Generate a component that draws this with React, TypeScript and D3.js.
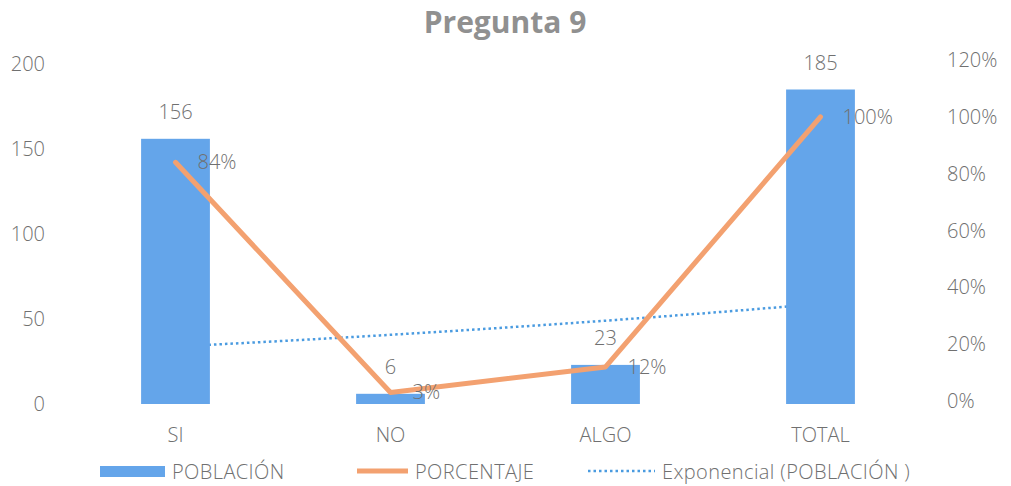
import React from "react";
import * as d3 from "d3";

const categories = ["SI", "NO", "ALGO", "TOTAL"];
const poblacion = [156, 6, 23, 185];
const porcentaje = [0.84, 0.03, 0.12, 1.0];
const pctLabels = ["84%", "3%", "12%", "100%"];
const leftTicks = [0, 50, 100, 150, 200];
const rightTicks = [0, 0.2, 0.4, 0.6, 0.8, 1.0, 1.2];

const W = 1011;
const H = 486;
const FONT = "'Open Sans', Lato, sans-serif";
const TXT = "#707070";
const BLUE = "#64a5ea";
const ORANGE = "#f3a170";

export default function App() {
  const x = d3.scaleBand<string>().domain(categories).range([68, 928]).paddingInner(0.68).paddingOuter(0.34);
  const yL = d3.scaleLinear().domain([0, 200]).range([404, 64]);
  const yR = d3.scaleLinear().domain([0, 1.2]).range([401, 60]);
  const cx = (c: string) => (x(c) as number) + x.bandwidth() / 2;

  // exponential trendline fit (least squares on ln y)
  const xs = poblacion.map((_, i) => i + 1);
  const lns = poblacion.map((v) => Math.log(v));
  const mx = d3.mean(xs) as number;
  const ml = d3.mean(lns) as number;
  const b = d3.sum(xs.map((xi, i) => (xi - mx) * (lns[i] - ml))) / d3.sum(xs.map((xi) => (xi - mx) ** 2));
  const a = ml - b * mx;
  const trendX = d3.scaleLinear().domain([1, categories.length]).range([cx(categories[0]), cx(categories[categories.length - 1])]);
  const trendPts = d3.range(1, categories.length + 0.001, 0.05).map((t) => [trendX(t), yL(Math.exp(a + b * t))] as [number, number]);
  const trendPath = d3.line()(trendPts) as string;

  const linePath = d3
    .line<number>()
    .x((_, i) => cx(categories[i]))
    .y((d) => yR(d))(porcentaje) as string;

  return (
    <svg width={W} height={H} style={{ position: "absolute", left: 0, top: 0, background: "#fff" }} fontFamily={FONT} fontWeight={300}>
      <text x={505} y={33} textAnchor="middle" fontSize={30} fontWeight="bold" fill="#909090" fontFamily="'Open Sans', sans-serif">
        Pregunta 9
      </text>
      {leftTicks.map((t) => (
        <text key={"l" + t} x={45} y={yL(t) + 7} textAnchor="end" fontSize={20} fill={TXT}>
          {t}
        </text>
      ))}
      {rightTicks.map((t) => (
        <text key={"r" + t} x={947} y={yR(t) + 7} textAnchor="start" fontSize={20} fill={TXT}>
          {Math.round(t * 100) + "%"}
        </text>
      ))}
      <path d={trendPath} fill="none" stroke="#4a9be0" strokeWidth={2.5} strokeDasharray="2.5 3" />
      {categories.map((c, i) => (
        <rect key={"b" + c} x={x(c)} y={yL(poblacion[i])} width={x.bandwidth()} height={yL(0) - yL(poblacion[i])} fill={BLUE} />
      ))}
      <path d={linePath} fill="none" stroke={ORANGE} strokeWidth={5} strokeLinejoin="round" strokeLinecap="round" />
      {categories.map((c, i) => (
        <text key={"v" + c} x={cx(c)} y={yL(poblacion[i]) - 20} textAnchor="middle" fontSize={20} fill={TXT}>
          {poblacion[i]}
        </text>
      ))}
      {categories.map((c, i) => (
        <text key={"p" + c} x={cx(c) + 22} y={yR(porcentaje[i]) + 7} textAnchor="start" fontSize={20} fill={TXT}>
          {pctLabels[i]}
        </text>
      ))}
      {categories.map((c) => (
        <text key={"c" + c} x={cx(c)} y={442} textAnchor="middle" fontSize={20} fill={TXT}>
          {c}
        </text>
      ))}
      <g fontSize={20} fill={TXT} letterSpacing={0.4}>
        <rect x={100} y={466} width={65} height={11} fill={BLUE} />
        <text x={172} y={479}>POBLACIÓN</text>
        <line x1={357} y1={471} x2={408} y2={471} stroke={ORANGE} strokeWidth={5} />
        <text x={415} y={479}>PORCENTAJE</text>
        <line x1={588} y1={471} x2={655} y2={471} stroke="#4a9be0" strokeWidth={2.5} strokeDasharray="2.5 3" />
        <text x={662} y={479}>Exponencial (POBLACIÓN )</text>
      </g>
    </svg>
  );
}
